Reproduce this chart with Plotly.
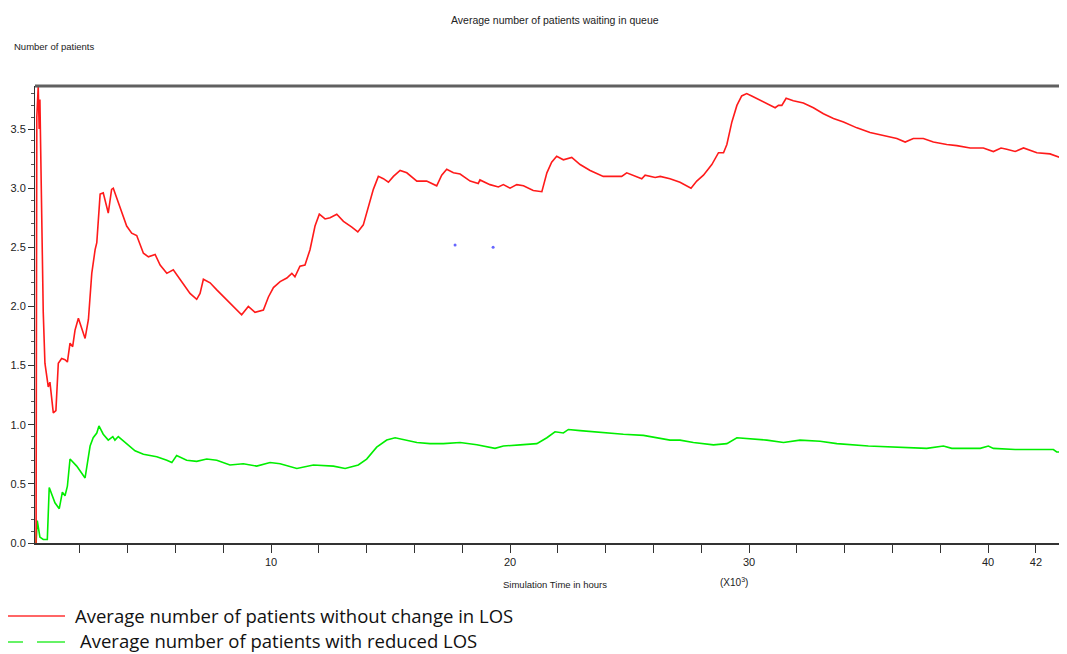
import plotly.graph_objects as go

# Simulation time (x10^3 hours) and average queue length
red_x = [0.17, 0.20, 0.26, 0.30, 0.33, 0.41, 0.47, 0.54, 0.68, 0.75, 0.89, 1.00, 1.10, 1.24, 1.38, 1.48,
         1.59, 1.70, 1.80, 1.94, 2.08, 2.22, 2.36, 2.50, 2.64, 2.71, 2.85, 2.98, 3.19, 3.33, 3.40, 3.61,
         3.96, 4.17, 4.38, 4.66, 4.87, 5.15, 5.36, 5.64, 5.91, 6.19, 6.61, 6.89, 7.03, 7.17, 7.45, 7.73,
         8.28, 8.77, 9.05, 9.33, 9.68, 9.89, 10.10, 10.38, 10.66, 10.87, 11.00, 11.21, 11.42, 11.63, 11.84,
         12.02, 12.26, 12.47, 12.75, 13.03, 13.38, 13.63, 13.86, 14.07, 14.28, 14.49, 14.70, 14.91, 15.12,
         15.40, 15.68, 16.10, 16.51, 16.93, 17.14, 17.35, 17.63, 17.91, 18.33, 18.67, 18.74, 19.16, 19.51,
         19.72, 20.00, 20.28, 20.56, 20.97, 21.33, 21.54, 21.74, 21.95, 22.23, 22.58, 22.93, 23.35, 23.90,
         24.18, 24.67, 24.88, 25.16, 25.51, 25.65, 25.93, 26.07, 26.28, 26.69, 27.11, 27.57, 27.81, 28.09,
         28.44, 28.72, 28.93, 29.07, 29.28, 29.49, 29.69, 29.90, 30.11, 30.60, 31.09, 31.23, 31.37, 31.55,
         31.85, 32.27, 32.69, 33.11, 33.53, 33.95, 34.51, 35.06, 35.76, 36.18, 36.53, 36.87, 37.29, 37.71,
         38.27, 38.69, 39.25, 39.80, 40.22, 40.54, 40.78, 41.13, 41.48, 42.04, 42.59, 43.29]
red_y = [0.00, 3.60, 3.86, 3.50, 3.75, 2.65, 1.95, 1.52, 1.32, 1.36, 1.10, 1.12, 1.52, 1.56, 1.55, 1.53,
         1.69, 1.66, 1.80, 1.90, 1.82, 1.73, 1.89, 2.28, 2.48, 2.54, 2.95, 2.96, 2.79, 2.99, 3.00, 2.88,
         2.68, 2.62, 2.60, 2.45, 2.42, 2.44, 2.35, 2.28, 2.31, 2.23, 2.11, 2.06, 2.11, 2.23, 2.20, 2.14,
         2.03, 1.93, 2.00, 1.95, 1.97, 2.08, 2.16, 2.21, 2.24, 2.28, 2.25, 2.34, 2.35, 2.48, 2.68,
         2.78, 2.74, 2.75, 2.78, 2.72, 2.67, 2.63, 2.69, 2.85, 2.99, 3.10, 3.08, 3.05, 3.10,
         3.15, 3.13, 3.06, 3.06, 3.02, 3.11, 3.16, 3.13, 3.12, 3.06, 3.04, 3.07, 3.03, 3.01,
         3.03, 3.00, 3.03, 3.02, 2.98, 2.97, 3.13, 3.22, 3.27, 3.24, 3.26, 3.20, 3.15, 3.10,
         3.10, 3.10, 3.13, 3.11, 3.08, 3.11, 3.10, 3.09, 3.10, 3.08, 3.05, 3.00, 3.06, 3.11,
         3.20, 3.30, 3.30, 3.37, 3.56, 3.70, 3.78, 3.80, 3.78, 3.73, 3.68, 3.70, 3.70, 3.76,
         3.74, 3.72, 3.68, 3.63, 3.59, 3.56, 3.51, 3.47, 3.44, 3.42, 3.39, 3.42, 3.42, 3.39,
         3.37, 3.36, 3.34, 3.34, 3.31, 3.34, 3.33, 3.31, 3.34, 3.30, 3.29, 3.24]

green_x = [0.17, 0.22, 0.33, 0.47, 0.64, 0.72, 0.96, 1.14, 1.27, 1.38, 1.48, 1.59, 1.87, 2.22, 2.43, 2.56,
           2.71, 2.80, 2.98, 3.19, 3.38, 3.47, 3.61, 3.96, 4.31, 4.66, 5.22, 5.64, 5.85, 6.05, 6.47, 6.89,
           7.31, 7.73, 8.28, 8.84, 9.40, 9.96, 10.38, 11.08, 11.77, 12.61, 13.10, 13.65, 14.00, 14.42, 14.84,
           15.19, 15.68, 16.10, 16.65, 17.21, 17.91, 18.61, 19.37, 19.72, 20.42, 21.12, 21.54, 21.88, 22.23,
           22.44, 22.93, 23.49, 24.05, 24.74, 25.58, 26.14, 26.69, 27.11, 27.67, 28.51, 29.07, 29.49, 30.04,
           30.74, 31.44, 32.13, 32.97, 33.67, 34.99, 36.32, 37.43, 38.13, 38.48, 39.67, 40.01, 40.22, 41.13,
           42.73, 42.87, 43.29]
green_y = [0.00, 0.19, 0.05, 0.03, 0.03, 0.47, 0.34, 0.29, 0.43, 0.40, 0.48, 0.71, 0.65, 0.55, 0.82, 0.89,
           0.93, 0.99, 0.92, 0.87, 0.90, 0.87, 0.90, 0.84, 0.78, 0.75, 0.73, 0.70, 0.68, 0.74, 0.70, 0.69,
           0.71, 0.70, 0.66, 0.67, 0.65, 0.68, 0.67, 0.63, 0.66, 0.65, 0.63, 0.66, 0.71, 0.81, 0.87,
           0.89, 0.87, 0.85, 0.84, 0.84, 0.85, 0.83, 0.80, 0.82, 0.83, 0.84, 0.89, 0.94, 0.93,
           0.96, 0.95, 0.94, 0.93, 0.92, 0.91, 0.89, 0.87, 0.87, 0.85, 0.83, 0.84, 0.89, 0.88,
           0.87, 0.85, 0.87, 0.86, 0.84, 0.82, 0.81, 0.80, 0.82, 0.80, 0.80, 0.82, 0.80, 0.79,
           0.79, 0.77, 0.77]

dot_x = [17.70, 19.29]
dot_y = [2.52, 2.50]

x_tickvals = [10, 20, 30, 40, 42]
x_ticktext = ["10", "20", "30", "40", "42"]
x_minor_ticks = [2, 4, 6, 8, 12, 14, 16, 18, 22, 24, 26, 28, 32, 34, 36, 38]

title_text = "Average number of patients waiting in queue"
ytitle_text = "Number of patients"
xtitle_text = "Simulation Time in hours"
scale_text = "(X10<sup>3</sup>)"
legend_names = ["Average number of patients without change in LOS",
                "Average number of patients with reduced LOS"]

NARROW = "Liberation Sans Narrow, Liberation Sans, Arial, sans-serif"
LEGFONT = "Open Sans, Lato, sans-serif"

fig = go.Figure()
fig.add_trace(go.Scatter(x=green_x, y=green_y, mode="lines",
                         line=dict(color="#00ee00", width=1.6), showlegend=False, hoverinfo="skip"))
fig.add_trace(go.Scatter(x=red_x, y=red_y, mode="lines",
                         line=dict(color="#ff1a1a", width=1.6), showlegend=False, hoverinfo="skip"))
fig.add_trace(go.Scatter(x=dot_x, y=dot_y, mode="markers",
                         marker=dict(color="#6666ff", size=3), showlegend=False, hoverinfo="skip"))

# page body has an 8px margin; figure is offset by it
OFF = 8
W, H = 1067 - OFF, 654 - OFF
L, R, T, B = 35 - OFF, 0, 86 - OFF, 654 - 543
pw, ph = W - L - R, H - T - B


def px(xp):
    return (xp - OFF - L) / pw


def py(yp):
    return (H - B - (yp - OFF)) / ph


fig.update_layout(
    width=W, height=H,
    margin=dict(l=L, r=R, t=T, b=B),
    paper_bgcolor="white", plot_bgcolor="white",
    showlegend=False,
    xaxis=dict(range=[0.125, 43.3], tickvals=x_tickvals, ticktext=x_ticktext,
               ticks="outside", ticklen=8, tickwidth=1, tickcolor="#333",
               minor=dict(tickvals=x_minor_ticks,
                          ticks="outside", ticklen=8, tickwidth=1, tickcolor="#333"),
               showline=True, linecolor="#333", linewidth=2, showgrid=False, zeroline=False,
               tickfont=dict(family=NARROW, size=11, color="#222")),
    yaxis=dict(range=[0, 3.864], dtick=0.5, tick0=0, tickformat=".1f",
               ticks="outside", ticklen=6, tickwidth=1, tickcolor="#333",
               minor=dict(dtick=0.1, ticks="outside", ticklen=3, tickcolor="#555"),
               showline=True, linecolor="#333", linewidth=1, showgrid=False, zeroline=False,
               tickfont=dict(family=NARROW, size=11, color="#222")),
    shapes=[
        dict(type="line", xref="paper", yref="paper", x0=0, x1=1, y0=1, y1=1,
             line=dict(color="#606060", width=3)),
        dict(type="line", xref="paper", yref="paper", x0=px(5), x1=px(65), y0=py(616), y1=py(616),
             line=dict(color="#ff3333", width=1.5)),
        dict(type="line", xref="paper", yref="paper", x0=px(5), x1=px(23), y0=py(642), y1=py(642),
             line=dict(color="#33ee33", width=1.5)),
        dict(type="line", xref="paper", yref="paper", x0=px(37), x1=px(65), y0=py(642), y1=py(642),
             line=dict(color="#33ee33", width=1.5)),
    ],
    annotations=[
        dict(text=title_text, xref="paper", yref="paper", x=px(555), y=py(20), showarrow=False,
             xanchor="center", yanchor="middle", font=dict(family=NARROW, size=10.5, color="#222")),
        dict(text=ytitle_text, xref="paper", yref="paper", x=px(12), y=py(47), showarrow=False,
             xanchor="left", yanchor="middle", font=dict(family=NARROW, size=9.5, color="#222")),
        dict(text=xtitle_text, xref="paper", yref="paper", x=px(555), y=py(584), showarrow=False,
             xanchor="center", yanchor="middle", font=dict(family=NARROW, size=9.5, color="#222")),
        dict(text=scale_text, xref="paper", yref="paper", x=px(734), y=py(582), showarrow=False,
             xanchor="center", yanchor="middle", font=dict(family=NARROW, size=10, color="#222")),
        dict(text=legend_names[0], xref="paper", yref="paper", x=px(74), y=py(615), showarrow=False,
             borderpad=0, xanchor="left", yanchor="middle",
             font=dict(family=LEGFONT, size=18.5, color="#111")),
        dict(text=legend_names[1], xref="paper", yref="paper", x=px(79), y=py(640), showarrow=False,
             borderpad=0, xanchor="left", yanchor="middle",
             font=dict(family=LEGFONT, size=18.5, color="#111")),
    ],
)

fig.write_html("out.html")
